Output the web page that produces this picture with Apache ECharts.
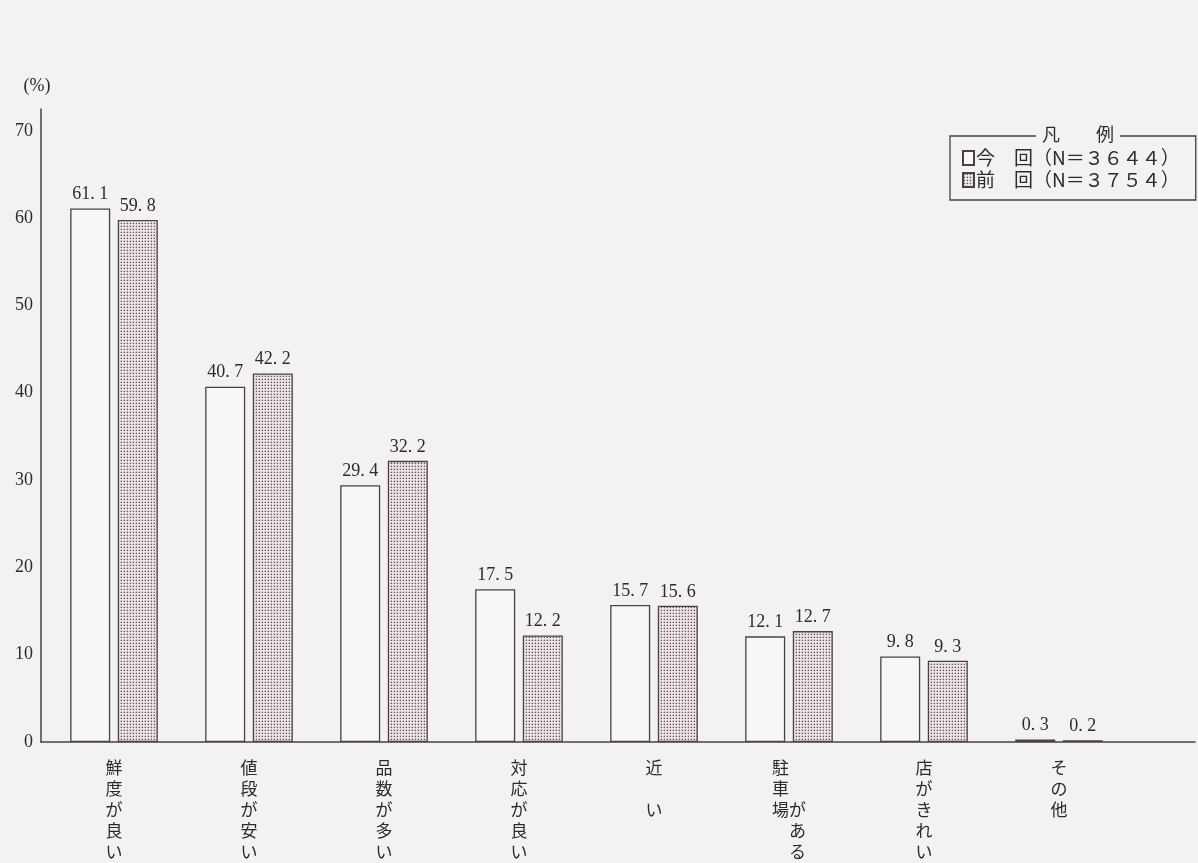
<!DOCTYPE html>
<html>
<head>
<meta charset="utf-8">
<script src="https://cdn.jsdelivr.net/npm/echarts@6/dist/echarts.min.js"></script>
<style>
  html, body { margin: 0; padding: 0; background: #f3f2f0; }
  #chart { width: 1198px; height: 863px; }
</style>
</head>
<body>
<div id="chart"></div>
<script>
// 店を選ぶ理由（複数回答, %）
const categories = ['鮮度が良い', '値段が安い', '品数が多い', '対応が良い', '近い', '駐車場がある', '店がきれい', 'その他'];
const currentValues = [61.1, 40.7, 29.4, 17.5, 15.7, 12.1, 9.8, 0.3];   // 今回
const previousValues = [59.8, 42.2, 32.2, 12.2, 15.6, 12.7, 9.3, 0.2];  // 前回
const seriesNames = ['今回', '前回'];
const sampleSizes = [3644, 3754];
const yTicks = [0, 10, 20, 30, 40, 50, 60, 70];

const PAPER = '#f3f2f0';
const INK = '#2e2a2c';
const LINE = '#484245';

// dotted screen-tone fill for the previous survey
function dotPattern() {
  const c = document.createElement('canvas');
  c.width = 3; c.height = 3;
  const g = c.getContext('2d');
  g.fillStyle = '#ebe2e5';
  g.fillRect(0, 0, 3, 3);
  g.fillStyle = '#c2b2b7';
  g.fillRect(0, 1, 1, 1);
  g.fillRect(1, 0, 1, 1);
  g.fillStyle = '#5f5055';
  g.fillRect(1, 1, 1, 1);
  return { image: c, repeat: 'repeat' };
}

function fullWidthDigits(n) {
  return String(n).replace(/[0-9]/g, d => String.fromCharCode(d.charCodeAt(0) + 0xFEE0));
}

// vertical category text (one character per line)
function verticalLabel(name) {
  if (name === '近い') return '近\n\nい';
  if (name === '駐車場がある') return '駐　\n車　\n場が\n　あ\n　る';
  return name.split('').join('\n');
}

const chart = echarts.init(document.getElementById('chart'), null, { renderer: 'canvas' });

const axisTop = 109, axisBottom = 742;

const valueLabel = {
  show: true,
  position: 'top',
  distance: 5,
  fontFamily: '"Liberation Serif", serif',
  fontSize: 18,
  color: INK,
  formatter: p => p.value.toFixed(1).replace('.', '. ')
};

chart.setOption({
  backgroundColor: PAPER,
  animation: false,
  grid: [
    { left: 46.5, width: 1080, top: axisTop, height: axisBottom - axisTop },
    { left: 41, right: 3, top: axisTop, height: axisBottom - axisTop }
  ],
  xAxis: [
    {
      type: 'category',
      gridIndex: 0,
      data: categories,
      axisLine: { show: false },
      axisTick: { show: false },
      axisLabel: {
        interval: 0,
        margin: 15,
        fontFamily: '"Noto Sans CJK JP", sans-serif',
        fontSize: 17,
        lineHeight: 21,
        color: INK,
        align: 'center',
        formatter: verticalLabel
      }
    },
    {
      type: 'value',
      gridIndex: 1,
      min: 0, max: 1,
      axisLine: { show: true, lineStyle: { color: LINE, width: 1.5 } },
      axisTick: { show: false },
      axisLabel: { show: false },
      splitLine: { show: false }
    }
  ],
  yAxis: [
    {
      type: 'value',
      gridIndex: 0,
      min: yTicks[0],
      max: 72.5,
      interval: yTicks[1] - yTicks[0],
      offset: 5.5,
      name: '(%)',
      nameLocation: 'end',
      nameGap: 14,
      nameTextStyle: {
        fontFamily: '"Liberation Serif", serif',
        fontSize: 18,
        color: INK,
        padding: [0, 8, 0, 0]
      },
      axisLine: { show: true, lineStyle: { color: LINE, width: 1.5 } },
      axisTick: { show: false },
      splitLine: { show: false },
      axisLabel: {
        margin: 8,
        showMaxLabel: false,
        fontFamily: '"Liberation Serif", serif',
        fontSize: 18,
        color: INK,
        formatter: v => (yTicks.indexOf(v) >= 0 ? String(v) : '')
      }
    },
    { type: 'value', gridIndex: 1, show: false, min: 0, max: 1 }
  ],
  legend: {
    orient: 'vertical',
    left: 950,
    top: 136,
    padding: [12, 16, 10, 12],
    itemWidth: 11,
    itemHeight: 14,
    itemGap: 2,
    icon: 'rect',
    borderColor: LINE,
    borderWidth: 1.3,
    data: seriesNames,
    formatter: name => {
      const i = seriesNames.indexOf(name);
      return name[0] + '　' + name[1] + '（N＝' + fullWidthDigits(sampleSizes[i]) + '）';
    },
    textStyle: {
      fontFamily: '"Noto Sans CJK JP", sans-serif',
      fontSize: 19,
      lineHeight: 20,
      color: INK,
      padding: [0, 0, 0, -3]
    }
  },
  graphic: [
    {
      type: 'text',
      left: 1036,
      top: 125,
      z: 100,
      style: {
        text: '凡　　例',
        font: '18px "Noto Sans CJK JP", sans-serif',
        fill: INK,
        backgroundColor: PAPER,
        padding: [0, 6]
      }
    }
  ],
  series: [
    {
      name: seriesNames[0],
      type: 'bar',
      xAxisIndex: 0,
      yAxisIndex: 0,
      data: currentValues,
      barWidth: 40,
      barGap: '19%',
      itemStyle: { color: '#f8f7f5', borderColor: LINE, borderWidth: 1.3 },
      label: valueLabel
    },
    {
      name: seriesNames[1],
      type: 'bar',
      xAxisIndex: 0,
      yAxisIndex: 0,
      data: previousValues,
      barWidth: 40,
      itemStyle: { color: dotPattern(), borderColor: LINE, borderWidth: 1.3 },
      label: valueLabel
    }
  ]
});
</script>
</body>
</html>
